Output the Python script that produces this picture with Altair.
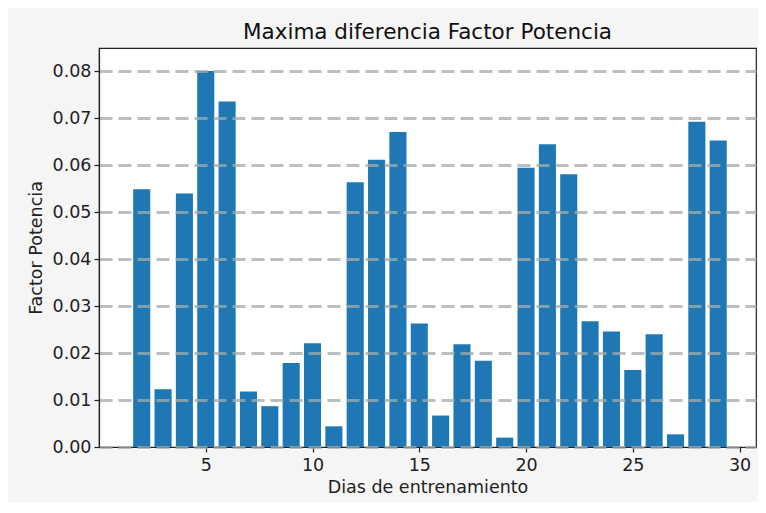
import altair as alt
import pandas as pd

dias = list(range(2, 30))
valores = [0.0549, 0.0123, 0.0540, 0.0801, 0.0736, 0.0118, 0.0087, 0.0179,
           0.0221, 0.0044, 0.0564, 0.0612, 0.0671, 0.0263, 0.0067, 0.0219,
           0.0184, 0.0020, 0.0595, 0.0645, 0.0581, 0.0268, 0.0246, 0.0164,
           0.0240, 0.0027, 0.0693, 0.0653]
y_ticks = [0.0, 0.01, 0.02, 0.03, 0.04, 0.05, 0.06, 0.07, 0.08]
x_ticks = [5, 10, 15, 20, 25, 30]

df = pd.DataFrame({"dia": dias, "valor": valores})

FONT = "DejaVu Sans"

chart = (
    alt.Chart(df)
    .transform_calculate(x0="datum.dia - 0.4", x1="datum.dia + 0.4")
    .mark_rect(color="#1f77b4")
    .encode(
        x=alt.X(
            "x0:Q",
            scale=alt.Scale(domain=[0, 30.77], nice=False, zero=False),
            axis=alt.Axis(
                values=x_ticks,
                title="Dias de entrenamiento",
                format="d",
                grid=False,
                labelFontSize=17.5,
                titleFontSize=17.5,
                labelPadding=4,
                titlePadding=5,
            ),
        ),
        x2="x1:Q",
        y=alt.Y(
            "valor:Q",
            scale=alt.Scale(domain=[0, 0.085], nice=False),
            axis=alt.Axis(
                values=y_ticks,
                format=".2f",
                title="Factor Potencia",
                grid=True,
                gridDash=[13, 6],
                gridWidth=3,
                gridColor="#a3abab",
                gridOpacity=0.75,
                zindex=1,
                labelFontSize=17.5,
                titleFontSize=17.5,
                labelPadding=3,
                titlePadding=7,
            ),
        ),
        y2=alt.datum(0),
    )
    .properties(
        width=657,
        height=399,
        title=alt.TitleParams(
            "Maxima diferencia Factor Potencia",
            fontSize=21.5,
            font=FONT,
            fontWeight="normal",
            color="#111111",
            offset=5,
        ),
        autosize=alt.AutoSizeParams(type="none"),
        padding={"left": 91, "top": 40, "right": 2, "bottom": 55},
        background="#f5f5f5",
    )
    .configure_view(stroke="#222222", strokeWidth=1.2, fill="white")
    .configure_axis(
        labelFont=FONT,
        titleFont=FONT,
        labelColor="#222222",
        titleColor="#222222",
        titleFontWeight="normal",
        domainColor="#222222",
        tickColor="#222222",
        tickSize=5,
        domainWidth=1.2,
        tickWidth=1.2,
    )
)

chart.save("out.html", embed_options={"renderer": "svg", "actions": False})
